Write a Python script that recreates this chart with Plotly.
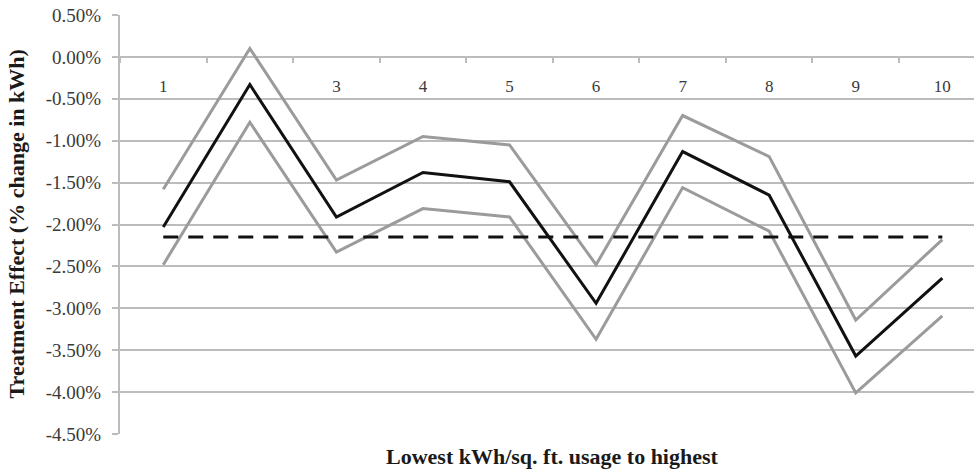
import plotly.graph_objects as go

categories = ["1", "2", "3", "4", "5", "6", "7", "8", "9", "10"]
cat_tick_labels = ["1", "", "3", "4", "5", "6", "7", "8", "9", "10"]
effect = [-2.03, -0.33, -1.91, -1.38, -1.49, -2.94, -1.13, -1.65, -3.57, -2.64]
upper_ci = [-1.58, 0.10, -1.47, -0.95, -1.05, -2.48, -0.70, -1.19, -3.14, -2.18]
lower_ci = [-2.48, -0.78, -2.33, -1.81, -1.91, -3.37, -1.56, -2.08, -4.01, -3.09]
average_effect = [-2.15] * 10
y_tick_vals = [0.5, 0.0, -0.5, -1.0, -1.5, -2.0, -2.5, -3.0, -3.5, -4.0, -4.5]
y_tick_text = ["0.50%", "0.00%", "-0.50%", "-1.00%", "-1.50%", "-2.00%",
               "-2.50%", "-3.00%", "-3.50%", "-4.00%", "-4.50%"]

GRAY = "#9b9b9b"
GRID = "#bcbcbc"
SERIF = "Liberation Serif, Times New Roman, serif"

fig = go.Figure()
for ys in (upper_ci, lower_ci):
    fig.add_trace(go.Scatter(x=categories, y=ys, mode="lines",
                             line=dict(color=GRAY, width=3), showlegend=False))
fig.add_trace(go.Scatter(x=categories, y=average_effect, mode="lines",
                         line=dict(color="#111111", width=3, dash="15px,10px"),
                         showlegend=False))
fig.add_trace(go.Scatter(x=categories, y=effect, mode="lines",
                         line=dict(color="#111111", width=3), showlegend=False))

L, R, T, B = 120, 0, 15, 36
W, H = 974, 470
plot_h = H - T - B
y0_pos = (0 - (-4.5)) / 5.0  # paper fraction of y = 0

fig.update_layout(
    width=W, height=H,
    margin=dict(l=L, r=R, t=T, b=B),
    paper_bgcolor="white", plot_bgcolor="white",
    font=dict(family=SERIF, color="#3a3a3a"),
    xaxis=dict(
        type="category", categoryarray=categories,
        range=[-0.5, 9.366],
        anchor="free", position=y0_pos,
        tickmode="array", tickvals=categories, ticktext=cat_tick_labels,
        tickson="boundaries", ticks="outside", ticklen=5, tickwidth=1.5,
        tickcolor=GRID, showline=False, showgrid=False, zeroline=False,
        tickfont=dict(size=17, family=SERIF, color="#3a3a3a"),
        ticklabelstandoff=17,
    ),
    yaxis=dict(
        range=[-4.5, 0.5],
        tickmode="array", tickvals=y_tick_vals, ticktext=y_tick_text,
        showgrid=True, gridcolor=GRID, gridwidth=2,
        zeroline=False,
        showline=True, linecolor=GRID, linewidth=2,
        ticks="outside", ticklen=6, tickcolor=GRID, tickwidth=2,
        tickfont=dict(size=19, family=SERIF, color="#3a3a3a"),
        ticklabelstandoff=7,
    ),
    annotations=[
        dict(text="<b>Treatment Effect (% change in kWh)</b>", textangle=-90,
             xref="paper", yref="paper", x=(16 - L) / (W - L - R), y=0.5,
             showarrow=False, font=dict(size=22, family=SERIF, color="#1a1a1a"),
             xanchor="center", yanchor="middle"),
        dict(text="<b>Lowest kWh/sq. ft. usage to highest</b>",
             xref="paper", yref="paper", x=(552 - L) / (W - L - R),
             y=-(456 - (H - B)) / plot_h,
             showarrow=False, font=dict(size=22, family=SERIF, color="#1a1a1a"),
             xanchor="center", yanchor="middle"),
    ],
)

fig.write_html("out.html")
